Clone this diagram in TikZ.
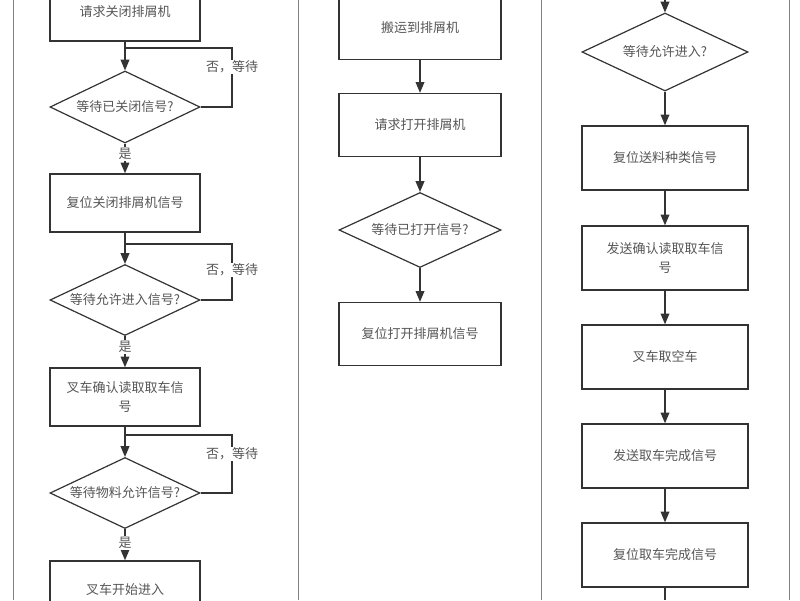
\documentclass[tikz,border=0pt]{standalone}
\usepackage{fontspec}
\setmainfont{Noto Sans CJK SC}
\usetikzlibrary{arrows,shapes.geometric}
\definecolor{linegray}{HTML}{333333}
\definecolor{textgray}{HTML}{555555}
\begin{document}
\begin{tikzpicture}[x=1pt,y=-1pt,>=triangle 45,
  every node/.style={font=\fontsize{13}{19}\selectfont,text=textgray},
  box/.style={draw=linegray,line width=1.5pt,minimum width=150pt,minimum height=58pt,align=center,text width=140pt,inner sep=0pt},
  wbox/.style={box,minimum width=162pt,text width=150pt,minimum height=63pt},
  decision/.style={diamond,draw=linegray,line width=1.2pt,minimum width=150pt,minimum height=71pt,aspect=2.1,inner sep=0pt},
  flow/.style={->,draw=linegray,line width=1.5pt},
  loopline/.style={linegray,line width=1.3pt},
  tag/.style={fill=white,inner sep=1pt}]
\useasboundingbox (0,0) rectangle (800,600);
\draw[gray,line width=1pt] (13,0) -- (13,600) (298,0) -- (298,600)
  (541,0) -- (541,600) (789,0) -- (789,600);
% left column
\node[box]   (rq)   at (125,12)  {请求关闭排屑机};
\node[decision,minimum height=72pt] (wc) at (125,107) {等待已关闭信号?};
\node[box]   (rc)   at (125,203) {复位关闭排屑机信号};
\node[decision] (wp) at (125,300) {等待允许进入信号?};
\node[box]   (ack)  at (125,397) {叉车确认读取取车信\\号};
\node[decision] (wm) at (125,493) {等待物料允许信号?};
\node[box]   (go)   at (125,590) {叉车开始进入};
\coordinate (j1) at (125,48);
\coordinate (j2) at (125,244);
\coordinate (j3) at (125,435);
\draw[flow] (rq) -- (wc);
\draw[flow] (rc) -- (wp);
\draw[flow] (ack) -- (wm);
\draw[loopline] (wc.east) -| (232,48) -- (j1);
\draw[loopline] (wp.east) -| (232,244) -- (j2);
\draw[loopline] (wm.east) -| (232,435) -- (j3);
\node[tag] at (232,67)  {否，等待};
\node[tag] at (232,270) {否，等待};
\node[tag] at (232,454) {否，等待};
\draw[flow] (wc) -- node[pos=0.35,tag] {是} (rc);
\draw[flow] (wp) -- node[pos=0.35,tag] {是} (ack);
\draw[flow] (wm) -- node[pos=0.45,tag] {是} (go);
% middle column
\node[wbox]  (carry) at (420,28)  {搬运到排屑机};
\node[wbox]  (ro)    at (420,125) {请求打开排屑机};
\node[decision,minimum width=162pt,minimum height=75pt] (wo) at (420,230) {等待已打开信号?};
\node[wbox]  (rso)   at (420,334) {复位打开排屑机信号};
\draw[flow] (carry) -- (ro);
\draw[flow] (ro) -- (wo);
\draw[flow] (wo) -- (rso);
% right column
\coordinate (top) at (665,-5);
\coordinate (bot) at (665,600);
\node[decision,minimum width=166pt,minimum height=78pt] (we) at (665,52) {等待允许进入?};
\node[box,minimum width=166pt,text width=156pt,minimum height=64pt] (rk) at (665,158) {复位送料种类信号};
\node[box,minimum width=166pt,text width=156pt,minimum height=64pt] (sa) at (665,258) {发送确认读取取车信\\号};
\node[box,minimum width=166pt,text width=156pt,minimum height=64pt] (fe) at (665,357) {叉车取空车};
\node[box,minimum width=166pt,text width=156pt,minimum height=64pt] (sd) at (665,456) {发送取车完成信号};
\node[box,minimum width=166pt,text width=156pt,minimum height=64pt] (rd) at (665,555) {复位取车完成信号};
\draw[flow] (top) -- (we);
\draw[flow] (we) -- (rk);
\draw[flow] (rk) -- (sa);
\draw[flow] (sa) -- (fe);
\draw[flow] (fe) -- (sd);
\draw[flow] (sd) -- (rd);
\draw[linegray,line width=1.5pt] (rd) -- (bot);
\end{tikzpicture}
\end{document}
